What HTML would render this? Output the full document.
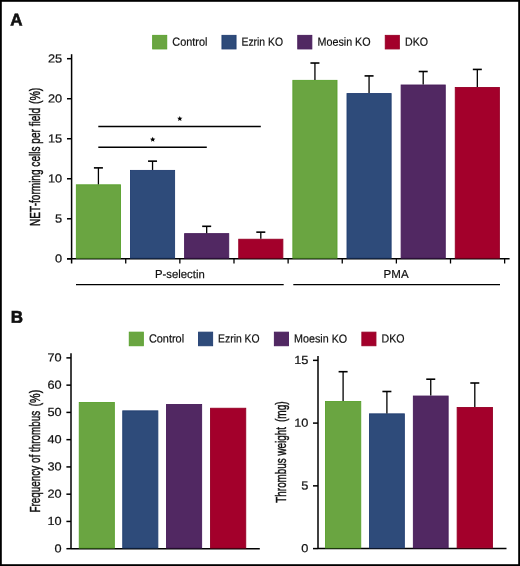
<!DOCTYPE html>
<html><head><meta charset="utf-8"><style>
html,body{margin:0;padding:0;background:#fff;}
body{width:520px;height:566px;overflow:hidden;}
svg{display:block;}
#w{will-change:transform;}
text{font-family:"Liberation Sans",sans-serif;fill:#111;stroke:#111;stroke-width:0.2px;}
</style></head><body>
<div id="w"><svg width="520" height="566" viewBox="0 0 520 566">
<rect x="0" y="0" width="520" height="566" fill="#fff"/>
<text x="10.3" y="25.6" font-size="17" text-anchor="start" transform="rotate(0.05 10.3 25.6)" font-weight="bold" style="stroke-width:0.6px">A</text>
<text x="10.7" y="322.7" font-size="17" text-anchor="start" transform="rotate(0.05 10.7 322.7)" font-weight="bold" style="stroke-width:0.6px">B</text>
<rect x="152.65" y="35.35" width="14.1" height="13.6" fill="#6aa541" stroke="#58a02c" stroke-width="0.9"/>
<text x="172.3" y="45.8" font-size="11.7" text-anchor="start" transform="rotate(0.05 172.3 45.8)" textLength="35.2" lengthAdjust="spacingAndGlyphs" >Control</text>
<rect x="221.95" y="35.35" width="14.1" height="13.6" fill="#2e4b7a" stroke="#213e71" stroke-width="0.9"/>
<text x="241.5" y="45.8" font-size="11.7" text-anchor="start" transform="rotate(0.05 241.5 45.8)" textLength="41.5" lengthAdjust="spacingAndGlyphs" >Ezrin KO</text>
<rect x="297.75" y="35.35" width="14.1" height="13.6" fill="#512862" stroke="#471b5a" stroke-width="0.9"/>
<text x="317.5" y="45.8" font-size="11.7" text-anchor="start" transform="rotate(0.05 317.5 45.8)" textLength="53.1" lengthAdjust="spacingAndGlyphs" >Moesin KO</text>
<rect x="385.25" y="35.35" width="14.1" height="13.6" fill="#a3002b" stroke="#960026" stroke-width="0.9"/>
<text x="405.0" y="45.8" font-size="11.7" text-anchor="start" transform="rotate(0.05 405.0 45.8)" textLength="23.0" lengthAdjust="spacingAndGlyphs" >DKO</text>
<line x1="71.6" y1="54.2" x2="71.6" y2="263.5" stroke="#000" stroke-width="1.5"/>
<line x1="67" y1="258.8" x2="71.6" y2="258.8" stroke="#000" stroke-width="1.5"/>
<text x="62.1" y="262.5" font-size="11.7" text-anchor="end" transform="rotate(0.05 62.1 262.5)" textLength="7.1" lengthAdjust="spacingAndGlyphs" >0</text>
<line x1="67" y1="218.78000000000003" x2="71.6" y2="218.78000000000003" stroke="#000" stroke-width="1.5"/>
<text x="62.1" y="222.48" font-size="11.7" text-anchor="end" transform="rotate(0.05 62.1 222.48)" textLength="7.1" lengthAdjust="spacingAndGlyphs" >5</text>
<line x1="67" y1="178.76000000000002" x2="71.6" y2="178.76000000000002" stroke="#000" stroke-width="1.5"/>
<text x="62.1" y="182.46" font-size="11.7" text-anchor="end" transform="rotate(0.05 62.1 182.46)" textLength="14.2" lengthAdjust="spacingAndGlyphs" >10</text>
<line x1="67" y1="138.74" x2="71.6" y2="138.74" stroke="#000" stroke-width="1.5"/>
<text x="62.1" y="142.44" font-size="11.7" text-anchor="end" transform="rotate(0.05 62.1 142.44)" textLength="14.2" lengthAdjust="spacingAndGlyphs" >15</text>
<line x1="67" y1="98.72000000000003" x2="71.6" y2="98.72000000000003" stroke="#000" stroke-width="1.5"/>
<text x="62.1" y="102.42" font-size="11.7" text-anchor="end" transform="rotate(0.05 62.1 102.42)" textLength="14.2" lengthAdjust="spacingAndGlyphs" >20</text>
<line x1="67" y1="58.70000000000002" x2="71.6" y2="58.70000000000002" stroke="#000" stroke-width="1.5"/>
<text x="62.1" y="62.4" font-size="11.7" text-anchor="end" transform="rotate(0.05 62.1 62.4)" textLength="14.2" lengthAdjust="spacingAndGlyphs" >25</text>
<line x1="67" y1="258.8" x2="509.6" y2="258.8" stroke="#000" stroke-width="1.5"/>
<line x1="125.72999999999999" y1="258.8" x2="125.72999999999999" y2="263.5" stroke="#000" stroke-width="1.3"/>
<line x1="179.86" y1="258.8" x2="179.86" y2="263.5" stroke="#000" stroke-width="1.3"/>
<line x1="233.99" y1="258.8" x2="233.99" y2="263.5" stroke="#000" stroke-width="1.3"/>
<line x1="288.12" y1="258.8" x2="288.12" y2="263.5" stroke="#000" stroke-width="1.3"/>
<line x1="342.25" y1="258.8" x2="342.25" y2="263.5" stroke="#000" stroke-width="1.3"/>
<line x1="396.38" y1="258.8" x2="396.38" y2="263.5" stroke="#000" stroke-width="1.3"/>
<line x1="450.51" y1="258.8" x2="450.51" y2="263.5" stroke="#000" stroke-width="1.3"/>
<line x1="504.64" y1="258.8" x2="504.64" y2="263.5" stroke="#000" stroke-width="1.3"/>
<rect x="76.35" y="184.81" width="44.13" height="73.29" fill="#6aa541" stroke="#58a02c" stroke-width="0.9"/>
<line x1="98.41499999999999" y1="184.3628" x2="98.41499999999999" y2="167.87456000000003" stroke="#000" stroke-width="1.3"/>
<line x1="93.91499999999999" y1="167.87456000000003" x2="102.91499999999999" y2="167.87456000000003" stroke="#000" stroke-width="1.6"/>
<rect x="130.48" y="170.41" width="44.13" height="87.69" fill="#2e4b7a" stroke="#213e71" stroke-width="0.9"/>
<line x1="152.54500000000002" y1="169.9556" x2="152.54500000000002" y2="161.15120000000002" stroke="#000" stroke-width="1.3"/>
<line x1="148.04500000000002" y1="161.15120000000002" x2="157.04500000000002" y2="161.15120000000002" stroke="#000" stroke-width="1.6"/>
<rect x="184.61" y="233.64" width="44.13" height="24.46" fill="#512862" stroke="#471b5a" stroke-width="0.9"/>
<line x1="206.675" y1="233.18720000000002" x2="206.675" y2="226.30376" stroke="#000" stroke-width="1.3"/>
<line x1="202.175" y1="226.30376" x2="211.175" y2="226.30376" stroke="#000" stroke-width="1.6"/>
<rect x="238.74" y="239.24" width="44.13" height="18.86" fill="#a3002b" stroke="#960026" stroke-width="0.9"/>
<line x1="260.805" y1="238.79000000000002" x2="260.805" y2="232.14668" stroke="#000" stroke-width="1.3"/>
<line x1="256.305" y1="232.14668" x2="265.305" y2="232.14668" stroke="#000" stroke-width="1.6"/>
<rect x="292.87" y="80.36" width="44.13" height="177.74" fill="#6aa541" stroke="#58a02c" stroke-width="0.9"/>
<line x1="314.935" y1="79.91060000000002" x2="314.935" y2="63.022160000000014" stroke="#000" stroke-width="1.3"/>
<line x1="310.435" y1="63.022160000000014" x2="319.435" y2="63.022160000000014" stroke="#000" stroke-width="1.6"/>
<rect x="347.00" y="93.57" width="44.13" height="164.53" fill="#2e4b7a" stroke="#213e71" stroke-width="0.9"/>
<line x1="369.065" y1="93.11720000000003" x2="369.065" y2="75.9086" stroke="#000" stroke-width="1.3"/>
<line x1="364.565" y1="75.9086" x2="373.565" y2="75.9086" stroke="#000" stroke-width="1.6"/>
<rect x="401.13" y="85.00" width="44.13" height="173.10" fill="#512862" stroke="#471b5a" stroke-width="0.9"/>
<line x1="423.195" y1="84.55292000000003" x2="423.195" y2="71.50640000000004" stroke="#000" stroke-width="1.3"/>
<line x1="418.695" y1="71.50640000000004" x2="427.695" y2="71.50640000000004" stroke="#000" stroke-width="1.6"/>
<rect x="455.26" y="87.48" width="44.13" height="170.62" fill="#a3002b" stroke="#960026" stroke-width="0.9"/>
<line x1="477.325" y1="87.03416000000001" x2="477.325" y2="69.42536000000001" stroke="#000" stroke-width="1.3"/>
<line x1="472.825" y1="69.42536000000001" x2="481.825" y2="69.42536000000001" stroke="#000" stroke-width="1.6"/>
<line x1="98.3" y1="126.5" x2="260.8" y2="126.5" stroke="#000" stroke-width="1.4"/>
<line x1="98.3" y1="147.3" x2="206.8" y2="147.3" stroke="#000" stroke-width="1.4"/>
<polygon points="179.80,115.90 180.54,117.68 182.46,117.83 181.00,119.09 181.45,120.97 179.80,119.96 178.15,120.97 178.60,119.09 177.14,117.83 179.06,117.68" fill="#000"/>
<polygon points="152.70,136.80 153.44,138.58 155.36,138.73 153.90,139.99 154.35,141.87 152.70,140.86 151.05,141.87 151.50,139.99 150.04,138.73 151.96,138.58" fill="#000"/>
<line x1="76" y1="284.6" x2="283.7" y2="284.6" stroke="#000" stroke-width="1.4"/>
<line x1="293.3" y1="284.6" x2="500" y2="284.6" stroke="#000" stroke-width="1.4"/>
<text x="155" y="278.1" font-size="11.6" text-anchor="start" transform="rotate(0.05 155 278.1)" textLength="49.7" lengthAdjust="spacingAndGlyphs" >P-selectin</text>
<text x="383.6" y="278.1" font-size="11.6" text-anchor="start" transform="rotate(0.05 383.6 278.1)" textLength="25.0" lengthAdjust="spacingAndGlyphs" >PMA</text>
<text transform="translate(39.8,225.92) rotate(-90)" font-size="14.3" textLength="118.02" lengthAdjust="spacingAndGlyphs" style="stroke-width:0.45px">NET-forming cells per field</text>
<text transform="translate(39.8,104.08) rotate(-90)" font-size="14.3" textLength="16.44" lengthAdjust="spacingAndGlyphs" style="stroke-width:0.45px">(%)</text>
<rect x="129.25" y="332.15" width="14.1" height="13.6" fill="#6aa541" stroke="#58a02c" stroke-width="0.9"/>
<text x="148.9" y="342.6" font-size="11.7" text-anchor="start" transform="rotate(0.05 148.9 342.6)" textLength="35.2" lengthAdjust="spacingAndGlyphs" >Control</text>
<rect x="198.55" y="332.15" width="14.1" height="13.6" fill="#2e4b7a" stroke="#213e71" stroke-width="0.9"/>
<text x="218.1" y="342.6" font-size="11.7" text-anchor="start" transform="rotate(0.05 218.1 342.6)" textLength="41.5" lengthAdjust="spacingAndGlyphs" >Ezrin KO</text>
<rect x="274.35" y="332.15" width="14.1" height="13.6" fill="#512862" stroke="#471b5a" stroke-width="0.9"/>
<text x="294.1" y="342.6" font-size="11.7" text-anchor="start" transform="rotate(0.05 294.1 342.6)" textLength="53.1" lengthAdjust="spacingAndGlyphs" >Moesin KO</text>
<rect x="361.85" y="332.15" width="14.1" height="13.6" fill="#a3002b" stroke="#960026" stroke-width="0.9"/>
<text x="381.6" y="342.6" font-size="11.7" text-anchor="start" transform="rotate(0.05 381.6 342.6)" textLength="23.0" lengthAdjust="spacingAndGlyphs" >DKO</text>
<line x1="71" y1="353.3" x2="71" y2="548.7" stroke="#000" stroke-width="1.5"/>
<line x1="66.4" y1="548.7" x2="71" y2="548.7" stroke="#000" stroke-width="1.5"/>
<text x="61.7" y="552.4" font-size="11.7" text-anchor="end" transform="rotate(0.05 61.7 552.4)" textLength="7.1" lengthAdjust="spacingAndGlyphs" >0</text>
<line x1="66.4" y1="521.44" x2="71" y2="521.44" stroke="#000" stroke-width="1.5"/>
<text x="61.7" y="525.14" font-size="11.7" text-anchor="end" transform="rotate(0.05 61.7 525.14)" textLength="14.2" lengthAdjust="spacingAndGlyphs" >10</text>
<line x1="66.4" y1="494.18000000000006" x2="71" y2="494.18000000000006" stroke="#000" stroke-width="1.5"/>
<text x="61.7" y="497.88" font-size="11.7" text-anchor="end" transform="rotate(0.05 61.7 497.88)" textLength="14.2" lengthAdjust="spacingAndGlyphs" >20</text>
<line x1="66.4" y1="466.9200000000001" x2="71" y2="466.9200000000001" stroke="#000" stroke-width="1.5"/>
<text x="61.7" y="470.62" font-size="11.7" text-anchor="end" transform="rotate(0.05 61.7 470.62)" textLength="14.2" lengthAdjust="spacingAndGlyphs" >30</text>
<line x1="66.4" y1="439.6600000000001" x2="71" y2="439.6600000000001" stroke="#000" stroke-width="1.5"/>
<text x="61.7" y="443.36" font-size="11.7" text-anchor="end" transform="rotate(0.05 61.7 443.36)" textLength="14.2" lengthAdjust="spacingAndGlyphs" >40</text>
<line x1="66.4" y1="412.40000000000003" x2="71" y2="412.40000000000003" stroke="#000" stroke-width="1.5"/>
<text x="61.7" y="416.1" font-size="11.7" text-anchor="end" transform="rotate(0.05 61.7 416.1)" textLength="14.2" lengthAdjust="spacingAndGlyphs" >50</text>
<line x1="66.4" y1="385.14000000000004" x2="71" y2="385.14000000000004" stroke="#000" stroke-width="1.5"/>
<text x="61.7" y="388.84" font-size="11.7" text-anchor="end" transform="rotate(0.05 61.7 388.84)" textLength="14.2" lengthAdjust="spacingAndGlyphs" >60</text>
<line x1="66.4" y1="357.88000000000005" x2="71" y2="357.88000000000005" stroke="#000" stroke-width="1.5"/>
<text x="61.7" y="361.58" font-size="11.7" text-anchor="end" transform="rotate(0.05 61.7 361.58)" textLength="14.2" lengthAdjust="spacingAndGlyphs" >70</text>
<line x1="71" y1="548.7" x2="259.8" y2="548.7" stroke="#000" stroke-width="1.5"/>
<rect x="79.25" y="402.55" width="35.10" height="145.45" fill="#6aa541" stroke="#58a02c" stroke-width="0.9"/>
<rect x="122.75" y="410.85" width="35.10" height="137.15" fill="#2e4b7a" stroke="#213e71" stroke-width="0.9"/>
<rect x="166.55" y="404.55" width="35.10" height="143.45" fill="#512862" stroke="#471b5a" stroke-width="0.9"/>
<rect x="210.55" y="408.25" width="35.20" height="139.75" fill="#a3002b" stroke="#960026" stroke-width="0.9"/>
<text transform="translate(39.8,512.52) rotate(-90)" font-size="14.3" textLength="101.75" lengthAdjust="spacingAndGlyphs" style="stroke-width:0.45px">Frequency of thrombus</text>
<text transform="translate(39.8,406.52) rotate(-90)" font-size="14.3" textLength="16.82" lengthAdjust="spacingAndGlyphs" style="stroke-width:0.45px">(%)</text>
<line x1="318" y1="356.1" x2="318" y2="548.6" stroke="#000" stroke-width="1.5"/>
<line x1="313" y1="548.6" x2="318" y2="548.6" stroke="#000" stroke-width="1.5"/>
<text x="308.4" y="552.3" font-size="11.7" text-anchor="end" transform="rotate(0.05 308.4 552.3)" textLength="7.1" lengthAdjust="spacingAndGlyphs" >0</text>
<line x1="313" y1="485.85" x2="318" y2="485.85" stroke="#000" stroke-width="1.5"/>
<text x="308.4" y="489.55" font-size="11.7" text-anchor="end" transform="rotate(0.05 308.4 489.55)" textLength="7.1" lengthAdjust="spacingAndGlyphs" >5</text>
<line x1="313" y1="423.1" x2="318" y2="423.1" stroke="#000" stroke-width="1.5"/>
<text x="308.4" y="426.8" font-size="11.7" text-anchor="end" transform="rotate(0.05 308.4 426.8)" textLength="14.2" lengthAdjust="spacingAndGlyphs" >10</text>
<line x1="313" y1="360.35" x2="318" y2="360.35" stroke="#000" stroke-width="1.5"/>
<text x="308.4" y="364.05" font-size="11.7" text-anchor="end" transform="rotate(0.05 308.4 364.05)" textLength="14.2" lengthAdjust="spacingAndGlyphs" >15</text>
<line x1="318" y1="548.6" x2="506.5" y2="548.6" stroke="#000" stroke-width="1.5"/>
<rect x="325.45" y="401.55" width="35.30" height="146.35" fill="#6aa541" stroke="#58a02c" stroke-width="0.9"/>
<line x1="343.1" y1="401.1" x2="343.1" y2="371.7" stroke="#000" stroke-width="1.3"/>
<line x1="338.6" y1="371.7" x2="347.6" y2="371.7" stroke="#000" stroke-width="1.6"/>
<rect x="369.45" y="413.85" width="34.90" height="134.05" fill="#2e4b7a" stroke="#213e71" stroke-width="0.9"/>
<line x1="386.9" y1="413.4" x2="386.9" y2="391.5" stroke="#000" stroke-width="1.3"/>
<line x1="382.4" y1="391.5" x2="391.4" y2="391.5" stroke="#000" stroke-width="1.6"/>
<rect x="413.35" y="396.05" width="34.80" height="151.85" fill="#512862" stroke="#471b5a" stroke-width="0.9"/>
<line x1="430.75" y1="395.6" x2="430.75" y2="379.2" stroke="#000" stroke-width="1.3"/>
<line x1="426.25" y1="379.2" x2="435.25" y2="379.2" stroke="#000" stroke-width="1.6"/>
<rect x="457.15" y="407.45" width="35.30" height="140.45" fill="#a3002b" stroke="#960026" stroke-width="0.9"/>
<line x1="474.79999999999995" y1="407" x2="474.79999999999995" y2="383" stroke="#000" stroke-width="1.3"/>
<line x1="470.29999999999995" y1="383" x2="479.29999999999995" y2="383" stroke="#000" stroke-width="1.6"/>
<text transform="translate(285.6,502.65) rotate(-90)" font-size="14.3" textLength="75.55" lengthAdjust="spacingAndGlyphs" style="stroke-width:0.45px">Thrombus weight</text>
<text transform="translate(285.6,422.00) rotate(-90)" font-size="14.3" textLength="20.70" lengthAdjust="spacingAndGlyphs" style="stroke-width:0.45px">(mg)</text>
<rect x="0.9" y="0.9" width="518.2" height="564.2" fill="none" stroke="#000" stroke-width="1.8"/>
</svg></div>
</body></html>
